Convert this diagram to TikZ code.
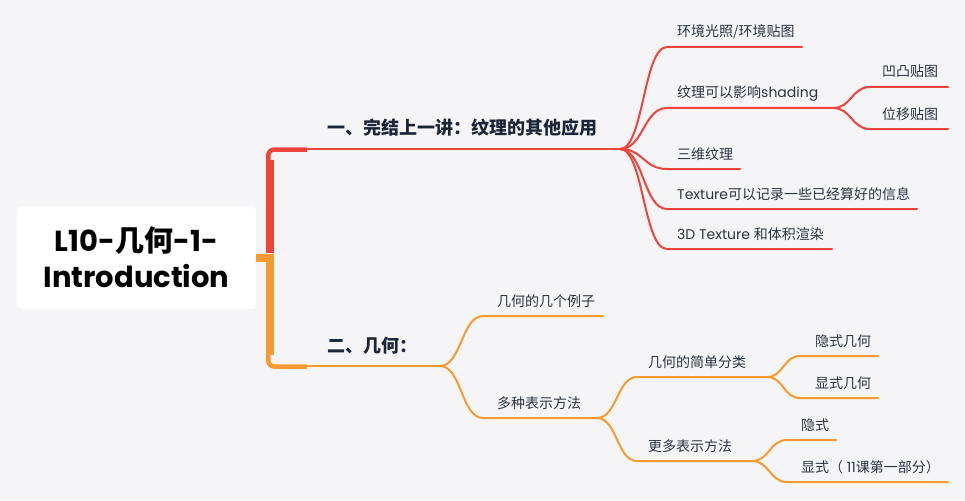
\documentclass[tikz,border=0pt]{standalone}
\usepackage{fontspec}
\setmainfont{Poppins}
\newfontfamily\cj{Noto Sans CJK SC}
\usetikzlibrary{calc}
\definecolor{bg}{HTML}{F5F5F8}
\definecolor{rd}{HTML}{F0443A}
\definecolor{og}{HTML}{F99A30}
\definecolor{tx}{HTML}{2B3240}
\definecolor{tt}{HTML}{1C2535}
\newcommand\mmlink[4]{\draw[br,#1] let \p1=(#2), \p2=(#3) in (#2) .. controls ({(\x1+\x2)/2},\y1) and ({(\x1+\x2)/2},\y2) .. (#3) -- (#4);}
\begin{document}
\begin{tikzpicture}[x=1pt,y=-1pt,
  lab/.style={anchor=base west, inner sep=0, font=\fontsize{14}{16}\selectfont, text=tx},
  ttl/.style={anchor=base west, inner sep=0, font=\fontsize{18}{20}\selectfont\bfseries, text=tt},
  br/.style={line width=2pt, line cap=round}]
\fill[bg] (0,0) rectangle (965,500);
\useasboundingbox (0,0) rectangle (965,500);

% root
\node (root) [fill=white, rounded corners=5pt, minimum width=239pt, minimum height=103pt, inner sep=0,
  align=center, font=\fontsize{29}{36}\selectfont\bfseries, text=black] at (136.5,257.5)
  {L10-{\cj 几何}-1-\\Introduction};

% main branches
\coordinate (stubA) at (256,258);
\coordinate (barx) at (270,258);
\coordinate (f1) at (620,149);
\coordinate (f0) at (440,366);
\fill[og] (root.east |- 0,254) rectangle (274,262);
\draw[rd, line width=8pt] (270,253) -- (270,160);
\draw[rd, line width=4.5pt, rounded corners=6pt] (268.25,170) -- (268.25,149.5) -- (307,149.5);
\draw[og, line width=8pt] (270,254) -- (270,355);
\draw[og, line width=4.5pt, rounded corners=6pt] (268.25,345) -- (268.25,366.5) -- (307,366.5);
\draw[br, rd] (307,149) -- (f1);
\draw[br, og] (307,366) -- (f0);

\node[ttl] (t1) at (327,134) {\cj 一、完结上一讲：纹理的其他应用};
\node[ttl] (t2) at (327,352) {\cj 二、几何：};

% red children
\coordinate (a1s) at (667,47);  \coordinate (a1e) at (802,47);
\coordinate (a2s) at (667,108); \coordinate (f2) at (833,108);
\coordinate (a21s) at (870,87); \coordinate (a21e) at (948,87);
\coordinate (a22s) at (870,129);\coordinate (a22e) at (948,129);
\coordinate (a3s) at (667,169); \coordinate (a3e) at (740,169);
\coordinate (a4s) at (667,209); \coordinate (a4e) at (917,209);
\coordinate (a5s) at (667,249); \coordinate (a5e) at (832,249);

\mmlink{rd}{f1}{a1s}{a1e}
\mmlink{rd}{f1}{a2s}{f2}
\mmlink{rd}{f2}{a21s}{a21e}
\mmlink{rd}{f2}{a22s}{a22e}
\mmlink{rd}{f1}{a3s}{a3e}
\mmlink{rd}{f1}{a4s}{a4e}
\mmlink{rd}{f1}{a5s}{a5e}

\node[lab] (a1) at (677,37) {\cj 环境光照/环境贴图};
\node[lab] (a2) at (677,98) {{\cj 纹理可以影响}shading};
\node[lab] (a21) at (882,77) {\cj 凹凸贴图};
\node[lab] (a22) at (882,119) {\cj 位移贴图};
\node[lab] (a3) at (677,159) {\cj 三维纹理};
\node[lab] (a4) at (677,199) {Texture{\cj 可以记录一些已经算好的信息}};
\node[lab] (a5) at (677,239) {3D Texture {\cj 和体积渲染}};

% orange children
\coordinate (b1s) at (483,316);  \coordinate (b1e) at (603,316);
\coordinate (b2s) at (483,418);  \coordinate (f3) at (597,418);
\coordinate (b21s) at (637,377); \coordinate (f4) at (767,377);
\coordinate (b22s) at (637,461); \coordinate (f5) at (752,461);
\coordinate (b211s) at (800,356); \coordinate (b211e) at (878,356);
\coordinate (b212s) at (800,398); \coordinate (b212e) at (878,398);
\coordinate (b221s) at (787,440); \coordinate (b221e) at (836,440);
\coordinate (b222s) at (787,482); \coordinate (b222e) at (948,482);

\mmlink{og}{f0}{b1s}{b1e}
\mmlink{og}{f0}{b2s}{f3}
\mmlink{og}{f3}{b21s}{f4}
\mmlink{og}{f3}{b22s}{f5}
\mmlink{og}{f4}{b211s}{b211e}
\mmlink{og}{f4}{b212s}{b212e}
\mmlink{og}{f5}{b221s}{b221e}
\mmlink{og}{f5}{b222s}{b222e}

\node[lab] (b1) at (497,306) {\cj 几何的几个例子};
\node[lab] (b2) at (497,408) {\cj 多种表示方法};
\node[lab] (b21) at (648,367) {\cj 几何的简单分类};
\node[lab] (b22) at (648,451) {\cj 更多表示方法};
\node[lab] (b211) at (815,346) {\cj 隐式几何};
\node[lab] (b212) at (815,388) {\cj 显式几何};
\node[lab] (b221) at (801,430) {\cj 隐式};
\node[lab] (b222) at (801,472) {{\cj 显式（} 11{\cj 课第一部分）}};
\end{tikzpicture}
\end{document}
